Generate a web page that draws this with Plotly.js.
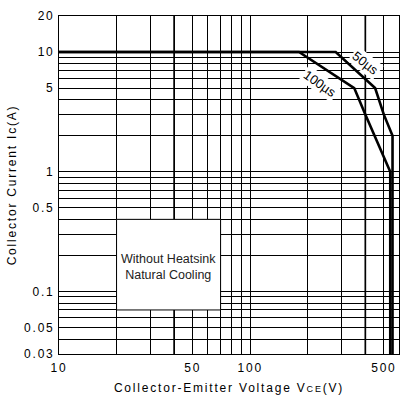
<!DOCTYPE html>
<html>
<head>
<meta charset="utf-8">
<script src="https://cdn.plot.ly/plotly-3.0.1.min.js"></script>
<style>
  html, body { margin: 0; padding: 0; background: #fff; }
  #chart { width: 400px; height: 395px; }
  .xtick text, .ytick text, .g-xtitle text, .g-ytitle text { letter-spacing: 1.8px; }
</style>
</head>
<body>
<div id="chart"></div>
<script>
// ---- data ----
const v50  = [10, 280, 450, 500, 555, 555];     // VCE (V), 50 µs pulse
const i50  = [10, 10, 5, 3, 2, 0.03];           // IC (A)
const v100 = [10, 180, 350, 400, 540, 540];     // VCE (V), 100 µs pulse
const i100 = [10, 10, 5, 3, 1, 0.03];           // IC (A)

const xTickVals = [10, 20, 30, 40, 50, 60, 70, 80, 90, 100, 200, 300, 400, 500, 600];
const xTickText = ['10', '', '', '', '50', '', '', '', '', '100', '', '', '', '500', ''];
const yTickVals = [0.03, 0.04, 0.05, 0.06, 0.07, 0.08, 0.09, 0.1, 0.2, 0.3, 0.4, 0.5, 0.6, 0.7, 0.8, 0.9,
                   1, 2, 3, 4, 5, 6, 7, 8, 9, 10, 20];
const yTickText = ['0.03', '', '0.05', '', '', '', '', '0.1', '', '', '', '0.5', '', '', '', '',
                   '1', '', '', '', '5', '', '', '', '', '10', '20'];
const thickGridV = [40, 400];
const noteLines = ['Without Heatsink', 'Natural Cooling'];

// ---- chart ----
const lineStyle = {color: '#000', width: 2.6};
const traces = [
  {x: v50, y: i50, mode: 'lines', line: lineStyle, name: '50µs', hoverinfo: 'skip'},
  {x: v100, y: i100, mode: 'lines', line: lineStyle, name: '100µs', hoverinfo: 'skip'}
];

const shapes = thickGridV.map(v => ({
  type: 'line', xref: 'x', yref: 'paper', x0: v, x1: v, y0: 0, y1: 1,
  line: {color: '#000', width: 1.7}, layer: 'below'
}));
shapes.push({
  type: 'rect', xref: 'x', yref: 'y', x0: 20, x1: 70, y0: 0.07, y1: 0.4,
  fillcolor: '#fff', line: {color: '#000', width: 1}, layer: 'above'
});

const font = {family: 'Liberation Sans, Arial, sans-serif', size: 12, color: '#000'};
const curveFont = {family: 'Liberation Sans, Arial, sans-serif', size: 13, color: '#000'};

const layout = {
  width: 400, height: 395,
  margin: {l: 59, r: 1, t: 16, b: 41, pad: 0},
  paper_bgcolor: '#fff', plot_bgcolor: '#fff',
  showlegend: false,
  font: font,
  xaxis: {
    type: 'log', range: [1, Math.log10(600)],
    tickmode: 'array', tickvals: xTickVals, ticktext: xTickText,
    ticks: '', showgrid: true, gridcolor: '#000', gridwidth: 1,
    showline: true, linecolor: '#000', linewidth: 1, mirror: true,
    zeroline: false, tickfont: font, ticklabelstandoff: 3,
    title: {text: 'Collector-Emitter Voltage V<span style="font-size:9px">CE</span>(V)', font: font, standoff: 9}
  },
  yaxis: {
    type: 'log', range: [Math.log10(0.03), Math.log10(20)],
    tickmode: 'array', tickvals: yTickVals, ticktext: yTickText,
    ticks: '', showgrid: true, gridcolor: '#000', gridwidth: 1,
    showline: true, linecolor: '#000', linewidth: 1, mirror: true,
    zeroline: false, tickfont: font, ticklabelstandoff: 1,
    title: {text: 'Collector Current Ic(A)', font: font, standoff: 4}
  },
  shapes: shapes,
  annotations: [
    {xref: 'x', yref: 'y', x: Math.log10(37.4), y: -0.794, text: noteLines.join('<br>'),
     showarrow: false, align: 'center',
     font: {family: 'Liberation Sans Narrow, Arial Narrow, Liberation Sans, Arial, sans-serif', size: 12.5, color: '#222'}},
    {xref: 'x', yref: 'y', x: 2.605, y: 0.906, text: '50µs', showarrow: false, textangle: 38,
     bgcolor: '#fff', borderpad: 1, font: curveFont},
    {xref: 'x', yref: 'y', x: 2.3635, y: 0.7388, text: '100µs', showarrow: false, textangle: 35,
     bgcolor: '#fff', borderpad: 1, font: curveFont}
  ]
};

Plotly.newPlot('chart', traces, layout, {staticPlot: true, displayModeBar: false});
</script>
</body>
</html>
